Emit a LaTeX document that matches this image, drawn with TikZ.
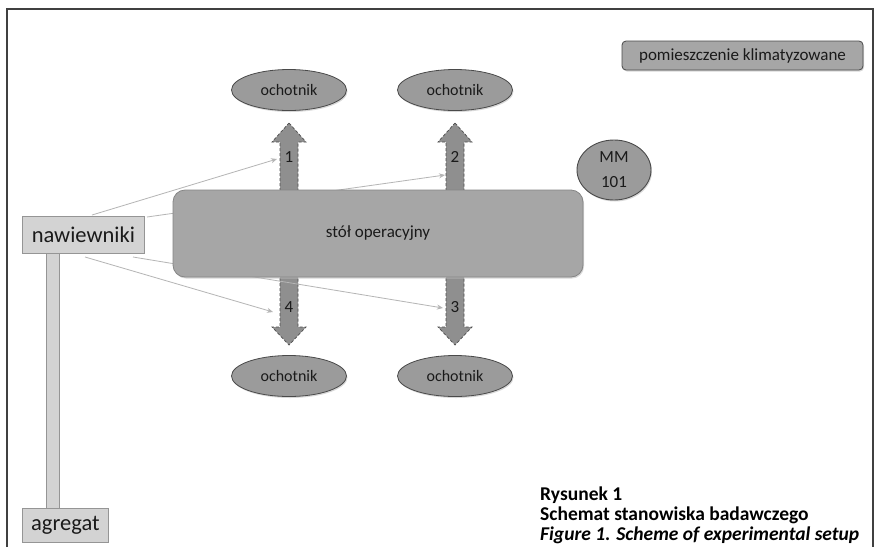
\documentclass[tikz,border=0pt]{standalone}
\usepackage{fontspec}
\setmainfont{Carlito}
\usetikzlibrary{arrows.meta,shapes.geometric,shadows}
\definecolor{ellfill}{HTML}{9B9B9B}
\definecolor{ellline}{HTML}{4A4A4A}
\definecolor{tabfill}{HTML}{A6A6A6}
\definecolor{tabline}{HTML}{858585}
\definecolor{lightfill}{HTML}{D3D3D3}
\definecolor{lightline}{HTML}{959595}
\definecolor{arrfill}{HTML}{8F8F8F}
\definecolor{arrline}{HTML}{4D4D4D}
\definecolor{thinline}{HTML}{B5B5B5}
\definecolor{txt}{HTML}{1A1A1A}
\definecolor{framec}{HTML}{404040}
\tikzset{
  shad/.style={drop shadow={shadow xshift=1pt,shadow yshift=-1.5pt,fill=black!25,opacity=0.6}},
  volunteer/.style={ellipse,draw=ellline,fill=ellfill,line width=0.8pt,minimum width=115pt,minimum height=41pt,inner sep=0pt,font=\fontsize{16}{18}\selectfont,text=txt,shad},
  lightbox/.style={rectangle,draw=lightline,fill=lightfill,line width=0.8pt,inner sep=0pt,text=txt,anchor=north west},
  blockarrow/.style={fill=arrfill,draw=arrline,dashed,dash pattern=on 3pt off 2pt,line width=0.7pt},
  feed/.style={draw=thinline,line width=0.8pt,-{Stealth[length=6pt,width=5pt]}},
  numlabel/.style={font=\fontsize{17}{19}\selectfont,text=txt,inner sep=0pt},
  captxt/.style={font=\fontsize{19.5}{22}\selectfont\bfseries,text=black,anchor=base west,inner sep=0pt}
}
\begin{document}
\begin{tikzpicture}[x=1pt,y=-1pt]
\useasboundingbox (0,0) rectangle (877,547);
\fill[white] (0,0) rectangle (877,547);
% frame
\draw[framec,line width=1.6pt] (7,547) -- (7,9) -- (873,9) -- (873,547);

% block arrows (behind table)
\draw[blockarrow] (289,123) -- (306,142) -- (298,142) -- (298,327) -- (306,327) -- (289,345) -- (272,327) -- (280,327) -- (280,142) -- (272,142) -- cycle;
\draw[blockarrow] (455,123) -- (472,142) -- (464,142) -- (464,327) -- (472,327) -- (455,345) -- (438,327) -- (446,327) -- (446,142) -- (438,142) -- cycle;

% coordinates for feed lines
\coordinate (s1) at (92,215);
\coordinate (e1) at (277,159);
\coordinate (s2) at (147,217);
\coordinate (e2) at (445,175);
\coordinate (s3) at (133,257);
\coordinate (e3) at (443,308);
\coordinate (s4) at (85,257);
\coordinate (e4) at (273,312);

\draw[feed] (s1) -- (e1);
\draw[feed] (s2) -- (e2);
\draw[feed] (s3) -- (e3);
\draw[feed] (s4) -- (e4);

% table
\node[rectangle,rounded corners=12pt,draw=tabline,fill=tabfill,line width=0.8pt,minimum width=410pt,minimum height=87pt,inner sep=0pt,font=\fontsize{17}{19}\selectfont,text=txt,shad] (table) at (378,233.5) {stół operacyjny};

% numbers
\node[numlabel] (n1) at (289,157) {1};
\node[numlabel] (n2) at (455,157) {2};
\node[numlabel] (n4) at (289,307) {4};
\node[numlabel] (n3) at (455,307) {3};

% volunteers
\node[volunteer] (o1) at (289,90) {ochotnik};
\node[volunteer] (o2) at (455,90) {ochotnik};
\node[volunteer] (o4) at (289,376) {ochotnik};
\node[volunteer] (o3) at (455,376) {ochotnik};

% MM 101
\node[ellipse,draw=ellline,fill=ellfill,line width=0.9pt,minimum width=74pt,minimum height=60pt,inner sep=0pt,align=center,font=\fontsize{17}{25}\selectfont,text=txt,shad] (mm) at (614,170) {MM\\101};

% legend box
\node[rectangle,rounded corners=4pt,draw=ellline,fill=tabfill,line width=0.8pt,minimum width=241pt,minimum height=29pt,inner sep=0pt,font=\fontsize{17}{19}\selectfont,text=txt,shad] (room) at (742.5,55.5) {pomieszczenie klimatyzowane};

% supply bar
\fill[lightfill] (46,253) rectangle (59,508);
\draw[lightline,line width=0.8pt] (46,253) rectangle (59,508);

% nawiewniki and agregat
\node[lightbox,minimum width=122pt,minimum height=37pt] (naw) at (22,216) {};
\node[text=txt,font=\fontsize{22.5}{24}\selectfont,inner sep=0pt] (nawt) at (naw.center) {nawiewniki};
\node[lightbox,minimum width=86pt,minimum height=34pt] (agr) at (22,508) {};
\node[text=txt,font=\fontsize{22.5}{24}\selectfont,inner sep=0pt] (agrt) at (agr.center) {agregat};

% caption
\node[captxt] (c1) at (540,500) {Rysunek 1};
\node[captxt] (c2) at (540,520) {Schemat stanowiska badawczego};
\node[captxt,font=\fontsize{19.5}{22}\selectfont\bfseries\itshape] (c3) at (540,540) {Figure 1. Scheme of experimental setup};
\end{tikzpicture}
\end{document}
